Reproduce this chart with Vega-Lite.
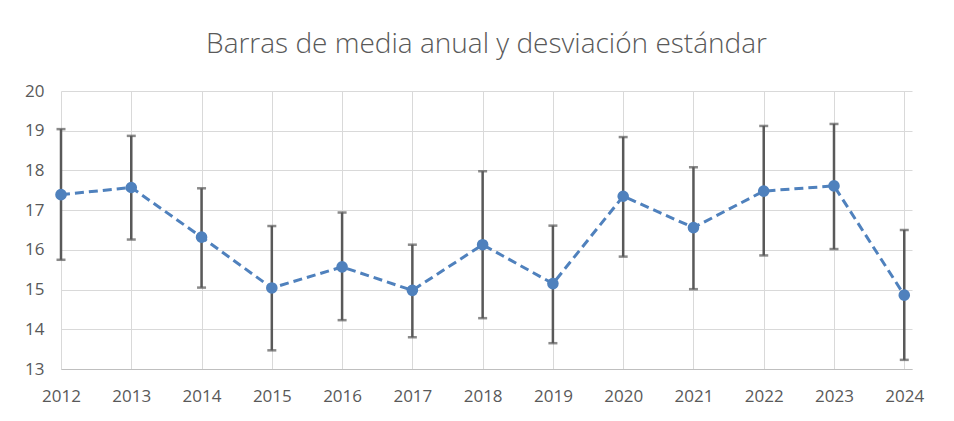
{
  "$schema": "https://vega.github.io/schema/vega-lite/v6.json",
  "autosize": "none",
  "width": 851,
  "height": 278,
  "padding": {"left": 61, "top": 91, "right": 42, "bottom": 52},
  "background": "white",
  "title": {
    "text": "Barras de media anual y desviación estándar",
    "font": "Open Sans",
    "fontSize": 28,
    "fontWeight": 300,
    "color": "#595959",
    "anchor": "middle",
    "baseline": "alphabetic",
    "offset": 1
  },
  "config": {
    "view": {"stroke": null},
    "axis": {
      "labelFont": "Open Sans",
      "labelFontSize": 17,
      "labelColor": "#595959",
      "gridColor": "#d9d9d9",
      "gridWidth": 1,
      "ticks": false,
      "title": null,
      "labelOverlap": false
    },
    "axisY": {
      "values": [13, 14, 15, 16, 17, 18, 19, 20],
      "domain": false,
      "labelPadding": 17,
      "tickCount": 8
    }
  },
  "data": {
    "values": [
      {"year": 2012, "mean": 17.39, "lo": 15.75, "hi": 19.04},
      {"year": 2013, "mean": 17.57, "lo": 16.26, "hi": 18.87},
      {"year": 2014, "mean": 16.32, "lo": 15.05, "hi": 17.55},
      {"year": 2015, "mean": 15.04, "lo": 13.47, "hi": 16.60},
      {"year": 2016, "mean": 15.57, "lo": 14.23, "hi": 16.94},
      {"year": 2017, "mean": 14.98, "lo": 13.80, "hi": 16.13},
      {"year": 2018, "mean": 16.13, "lo": 14.28, "hi": 17.98},
      {"year": 2019, "mean": 15.15, "lo": 13.65, "hi": 16.61},
      {"year": 2020, "mean": 17.35, "lo": 15.83, "hi": 18.84},
      {"year": 2021, "mean": 16.56, "lo": 15.01, "hi": 18.08},
      {"year": 2022, "mean": 17.48, "lo": 15.86, "hi": 19.12},
      {"year": 2023, "mean": 17.61, "lo": 16.02, "hi": 19.17},
      {"year": 2024, "mean": 14.86, "lo": 13.23, "hi": 16.50}
    ]
  },
  "encoding": {
    "x": {
      "field": "year",
      "type": "quantitative",
      "scale": {"domain": [2012, 2024.11], "nice": false, "zero": false},
      "axis": {
        "values": [2012, 2013, 2014, 2015, 2016, 2017, 2018, 2019, 2020, 2021, 2022, 2023, 2024],
        "format": "d",
        "labelPadding": 19,
        "domainColor": "#bfbfbf",
        "domainWidth": 1,
        "labelFlush": false,
        "labelOverlap": false
      }
    }
  },
  "layer": [
    {
      "mark": {"type": "rule", "color": "#595959", "strokeWidth": 2.5},
      "encoding": {
        "y": {
          "field": "lo",
          "type": "quantitative",
          "scale": {"domain": [13, 20], "nice": false, "zero": false},
          "axis": {"values": [13, 14, 15, 16, 17, 18, 19, 20], "tickCount": 8}
        },
        "y2": {"field": "hi"}
      }
    },
    {
      "mark": {"type": "tick", "color": "#595959", "orient": "horizontal", "size": 9, "thickness": 2.5},
      "encoding": {"y": {"field": "lo", "type": "quantitative", "axis": {"values": [13, 14, 15, 16, 17, 18, 19, 20], "tickCount": 8}}}
    },
    {
      "mark": {"type": "tick", "color": "#595959", "orient": "horizontal", "size": 9, "thickness": 2.5},
      "encoding": {"y": {"field": "hi", "type": "quantitative", "axis": {"values": [13, 14, 15, 16, 17, 18, 19, 20], "tickCount": 8}}}
    },
    {
      "mark": {"type": "line", "color": "#4f81bd", "strokeWidth": 3, "strokeDash": [9, 5]},
      "encoding": {"y": {"field": "mean", "type": "quantitative", "axis": {"values": [13, 14, 15, 16, 17, 18, 19, 20], "tickCount": 8}}}
    },
    {
      "mark": {"type": "point", "filled": true, "opacity": 1, "color": "#4f81bd", "size": 135, "shape": "circle"},
      "encoding": {"y": {"field": "mean", "type": "quantitative", "axis": {"values": [13, 14, 15, 16, 17, 18, 19, 20], "tickCount": 8}}}
    }
  ]
}
